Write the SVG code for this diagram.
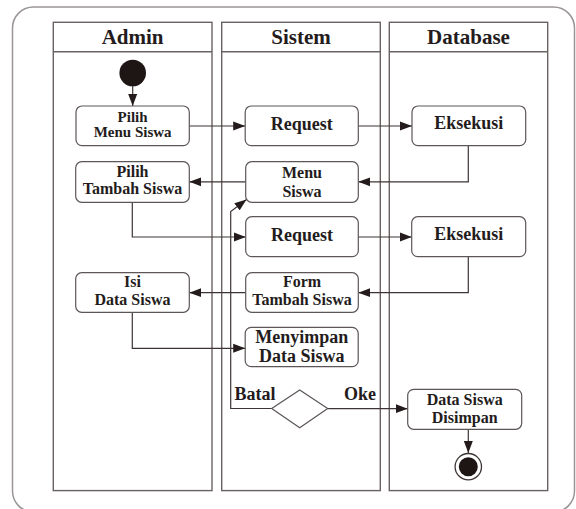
<svg xmlns="http://www.w3.org/2000/svg" width="576" height="509" viewBox="0 0 576 509">
<style>
.frame{fill:none;stroke:#9a9595;stroke-width:1.5}
.lane{fill:none;stroke:#6a6262;stroke-width:1.4}
.box{fill:#fff;stroke:#5c5656;stroke-width:1.2}
.conn{fill:none;stroke:#3d3535;stroke-width:1.2}
text{font-family:'Liberation Serif','Times New Roman',serif;font-weight:700;fill:#241c1c;text-anchor:middle}
.hd{font-size:21px}
.lg{font-size:18px}
.md{font-size:16px}
.sm{font-size:15px}
.lbl{font-size:18px;text-anchor:start}
</style>
<defs>
<marker id="arr" markerUnits="userSpaceOnUse" markerWidth="13" markerHeight="10" refX="12" refY="5" orient="auto">
<path d="M0,0.5 L12,5 L0,9.5 Z" fill="#241c1c"/>
</marker>
</defs>
<rect class="frame" x="12.5" y="7" width="562" height="505" rx="21" ry="21"/>
<g id="lane-admin">
<rect class="lane" x="53.3" y="22.3" width="158.7" height="468.3"/>
<line class="lane" x1="53.3" y1="51.7" x2="212" y2="51.7"/>
<text class="hd" x="132.6" y="43.5">Admin</text>
</g>
<g id="lane-sistem">
<rect class="lane" x="221.7" y="22.3" width="158.6" height="468.3"/>
<line class="lane" x1="221.7" y1="51.7" x2="380.3" y2="51.7"/>
<text class="hd" x="301" y="43.5">Sistem</text>
</g>
<g id="lane-database">
<rect class="lane" x="389.3" y="22.3" width="158.4" height="468.3"/>
<line class="lane" x1="389.3" y1="51.7" x2="547.7" y2="51.7"/>
<text class="hd" x="468.5" y="43.5">Database</text>
</g>
<g id="connectors">
<path class="conn" d="M132.7,86 V106" marker-end="url(#arr)"/>
<path class="conn" d="M189.3,126 H245.2" marker-end="url(#arr)"/>
<path class="conn" d="M358.3,126 H412" marker-end="url(#arr)"/>
<path class="conn" d="M468.3,145.7 V181.8 H358.3" marker-end="url(#arr)"/>
<path class="conn" d="M245.7,181.8 H189.3" marker-end="url(#arr)"/>
<path class="conn" d="M132.3,202.3 V237 H245.7" marker-end="url(#arr)"/>
<path class="conn" d="M358.3,237 H411.7" marker-end="url(#arr)"/>
<path class="conn" d="M468.3,256.7 V292.7 H358.3" marker-end="url(#arr)"/>
<path class="conn" d="M245.7,292.7 H189.3" marker-end="url(#arr)"/>
<path class="conn" d="M132.3,312.3 V348.3 H245.2" marker-end="url(#arr)"/>
<path class="conn" d="M271.7,408.5 H230.7 V211.5 L246.5,199.5" marker-end="url(#arr)"/>
<path class="conn" d="M327.7,408.7 H407.7" marker-end="url(#arr)"/>
<path class="conn" d="M468.3,429.3 V453" marker-end="url(#arr)"/>
</g>
<g id="start">
<circle cx="132.7" cy="73" r="13.3" fill="#1e1614"/>
</g>
<g id="pilih-menu-siswa">
<rect class="box" x="76" y="106" width="113.3" height="39.7" rx="6"/>
<text class="sm" x="132.6" y="121.7">Pilih</text>
<text class="sm" x="132.6" y="136.8">Menu Siswa</text>
</g>
<g id="request-1">
<rect class="box" x="245.2" y="106" width="113.1" height="39.7" rx="6"/>
<text class="lg" x="301.7" y="129.5">Request</text>
</g>
<g id="eksekusi-1">
<rect class="box" x="412" y="106" width="113.7" height="39.7" rx="6"/>
<text class="lg" x="468.8" y="129">Eksekusi</text>
</g>
<g id="pilih-tambah-siswa">
<rect class="box" x="75.7" y="161.7" width="113.6" height="40.6" rx="6"/>
<text class="md" x="132.5" y="176.7">Pilih</text>
<text class="md" x="132.5" y="194.3">Tambah Siswa</text>
</g>
<g id="menu-siswa">
<rect class="box" x="245.7" y="161.7" width="112.6" height="40.6" rx="6"/>
<text class="md" x="302" y="178.3">Menu</text>
<text class="md" x="302" y="196.7">Siswa</text>
</g>
<g id="request-2">
<rect class="box" x="245.7" y="216.7" width="112.6" height="40" rx="6"/>
<text class="lg" x="302" y="240.5">Request</text>
</g>
<g id="eksekusi-2">
<rect class="box" x="411.7" y="216.7" width="114" height="40" rx="6"/>
<text class="lg" x="468.7" y="240">Eksekusi</text>
</g>
<g id="isi-data-siswa">
<rect class="box" x="75.7" y="272.7" width="113.6" height="39.6" rx="6"/>
<text class="md" x="132.5" y="286.7">Isi</text>
<text class="md" x="132.5" y="305.3">Data Siswa</text>
</g>
<g id="form-tambah-siswa">
<rect class="box" x="245.7" y="272.7" width="112.6" height="39.6" rx="6"/>
<text class="md" x="302" y="286.7">Form</text>
<text class="md" x="302" y="305.3">Tambah Siswa</text>
</g>
<g id="menyimpan-data-siswa">
<rect class="box" x="245.2" y="327.3" width="113" height="39.4" rx="6"/>
<text class="lg" x="301.7" y="342.7">Menyimpan</text>
<text class="lg" x="301.7" y="362.3">Data Siswa</text>
</g>
<g id="decision">
<polygon points="271.7,408.5 299.7,390 327.7,408.5 299.7,427.7" fill="#fff" stroke="#5c5656" stroke-width="1.2"/>
<text class="lbl" x="234.5" y="400">Batal</text>
<text class="lbl" x="344" y="400">Oke</text>
</g>
<g id="data-siswa-disimpan">
<rect class="box" x="407.7" y="389.3" width="114" height="40" rx="6"/>
<text class="md" x="464.7" y="405">Data Siswa</text>
<text class="md" x="464.7" y="423.3">Disimpan</text>
</g>
<g id="end">
<circle cx="468.3" cy="466.7" r="13.2" fill="#fff" stroke="#3d3535" stroke-width="1.3"/>
<circle cx="468.3" cy="466.7" r="9.5" fill="#1e1614"/>
</g>
</svg>
